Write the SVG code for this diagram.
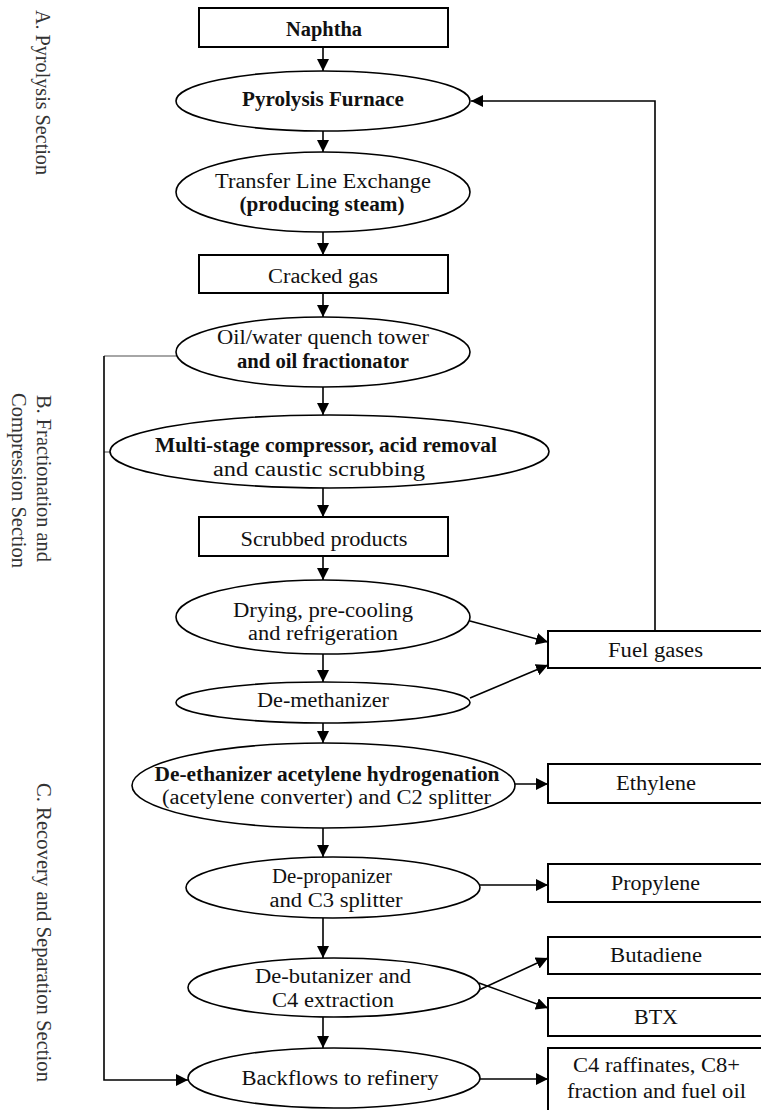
<svg xmlns="http://www.w3.org/2000/svg" width="761" height="1110" viewBox="0 0 761 1110">
<style>
.bg{fill:#fff}
.box{fill:#fff;stroke:#000;stroke-width:2}
.ell{fill:#fff;stroke:#000;stroke-width:1.6}
.t{font-family:"Liberation Serif","Times New Roman",serif;font-size:20px;fill:#111;text-anchor:middle}
.b{font-weight:bold}
.lbl{font-family:"Liberation Serif","Times New Roman",serif;font-size:20px;fill:#333}
.c{fill:none;stroke:#000;stroke-width:1.6}
.g{fill:none;stroke:#888;stroke-width:1.6}
</style>
<defs>
<marker id="ah" markerUnits="userSpaceOnUse" markerWidth="12" markerHeight="12" refX="12" refY="6" orient="auto" viewBox="0 0 12 12">
<path d="M0,0 L12,6 L0,12 z" fill="#000"/>
</marker>
</defs>
<rect class="bg" x="0" y="0" width="761" height="1110"/>

<g id="labels">
<text class="lbl" transform="translate(36,10) rotate(90)" textLength="165" lengthAdjust="spacingAndGlyphs">A. Pyrolysis Section</text>
<text class="lbl" transform="translate(37,395) rotate(90)" textLength="167" lengthAdjust="spacingAndGlyphs">B. Fractionation and</text>
<text class="lbl" transform="translate(12,393) rotate(90)" textLength="175" lengthAdjust="spacingAndGlyphs">Compression Section</text>
<text class="lbl" transform="translate(37,783) rotate(90)" textLength="299" lengthAdjust="spacingAndGlyphs">C. Recovery and Separation Section</text>
</g>

<g id="connectors">
<line class="c" x1="323" y1="47" x2="323" y2="71" marker-end="url(#ah)"/>
<line class="c" x1="323" y1="131" x2="323" y2="152" marker-end="url(#ah)"/>
<line class="c" x1="323" y1="232" x2="323" y2="255" marker-end="url(#ah)"/>
<line class="c" x1="323" y1="293" x2="323" y2="317" marker-end="url(#ah)"/>
<line class="c" x1="323" y1="387" x2="323" y2="415" marker-end="url(#ah)"/>
<line class="c" x1="323" y1="488" x2="323" y2="517" marker-end="url(#ah)"/>
<line class="c" x1="323" y1="556" x2="323" y2="580" marker-end="url(#ah)"/>
<line class="c" x1="323" y1="654" x2="323" y2="682" marker-end="url(#ah)"/>
<line class="c" x1="323" y1="723" x2="323" y2="743" marker-end="url(#ah)"/>
<line class="c" x1="323" y1="828" x2="323" y2="857" marker-end="url(#ah)"/>
<line class="c" x1="323" y1="918" x2="323" y2="958" marker-end="url(#ah)"/>
<line class="c" x1="323" y1="1017" x2="323" y2="1048" marker-end="url(#ah)"/>
<polyline class="c" points="655,631 655,101 471,101" marker-end="url(#ah)"/>
<line class="c" x1="470" y1="621" x2="548" y2="642" marker-end="url(#ah)"/>
<line class="c" x1="470" y1="698" x2="548" y2="665" marker-end="url(#ah)"/>
<line class="c" x1="515" y1="784" x2="548" y2="784" marker-end="url(#ah)"/>
<line class="c" x1="480" y1="885" x2="548" y2="885" marker-end="url(#ah)"/>
<line class="c" x1="479" y1="990" x2="548" y2="958" marker-end="url(#ah)"/>
<line class="c" x1="479" y1="983" x2="548" y2="1008" marker-end="url(#ah)"/>
<line class="c" x1="480" y1="1079" x2="548" y2="1079" marker-end="url(#ah)"/>
<line class="g" x1="176" y1="356" x2="104" y2="356"/>
<line class="g" x1="110" y1="452" x2="104" y2="452"/>
<polyline class="c" points="104,356 104,1080 188,1080" marker-end="url(#ah)"/>
</g>

<g id="naphtha"><rect class="box" x="199" y="8" width="249" height="39"/><text class="t b" x="324" y="36" textLength="76" lengthAdjust="spacingAndGlyphs">Naphtha</text></g>
<g id="pyrolysis"><ellipse class="ell" cx="323" cy="101" rx="147" ry="30"/><text class="t b" x="323" y="106" textLength="162" lengthAdjust="spacingAndGlyphs">Pyrolysis Furnace</text></g>
<g id="tle"><ellipse class="ell" cx="323" cy="192" rx="147" ry="40"/><text class="t" x="323" y="188" textLength="216" lengthAdjust="spacingAndGlyphs">Transfer Line Exchange</text><text class="t b" x="322" y="211" textLength="165" lengthAdjust="spacingAndGlyphs">(producing steam)</text></g>
<g id="cracked"><rect class="box" x="199" y="255" width="249" height="38"/><text class="t" x="323" y="283" textLength="110" lengthAdjust="spacingAndGlyphs">Cracked gas</text></g>
<g id="quench"><ellipse class="ell" cx="323" cy="352" rx="147" ry="35"/><text class="t" x="323" y="344" textLength="212" lengthAdjust="spacingAndGlyphs">Oil/water quench tower</text><text class="t b" x="323" y="368" textLength="172" lengthAdjust="spacingAndGlyphs">and oil fractionator</text></g>
<g id="compressor"><ellipse class="ell" cx="329.5" cy="451.5" rx="219.5" ry="36.5"/><text class="t b" x="326" y="452" textLength="342" lengthAdjust="spacingAndGlyphs">Multi-stage compressor, acid removal</text><text class="t" x="319" y="476" textLength="212" lengthAdjust="spacingAndGlyphs">and caustic scrubbing</text></g>
<g id="scrubbed"><rect class="box" x="199" y="517" width="249" height="39"/><text class="t" x="324" y="546" textLength="167" lengthAdjust="spacingAndGlyphs">Scrubbed products</text></g>
<g id="drying"><ellipse class="ell" cx="323" cy="617" rx="147" ry="37"/><text class="t" x="323" y="617" textLength="180" lengthAdjust="spacingAndGlyphs">Drying, pre-cooling</text><text class="t" x="323" y="640" textLength="150" lengthAdjust="spacingAndGlyphs">and refrigeration</text></g>
<g id="demethanizer"><ellipse class="ell" cx="323" cy="702.5" rx="147" ry="20.5"/><text class="t" x="323" y="707" textLength="132" lengthAdjust="spacingAndGlyphs">De-methanizer</text></g>
<g id="deethanizer"><ellipse class="ell" cx="323.5" cy="785.5" rx="191.5" ry="42.5"/><text class="t b" x="327" y="781" textLength="345" lengthAdjust="spacingAndGlyphs">De-ethanizer acetylene hydrogenation</text><text class="t" x="326.5" y="804" textLength="329" lengthAdjust="spacingAndGlyphs">(acetylene converter) and C2 splitter</text></g>
<g id="depropanizer"><ellipse class="ell" cx="333" cy="887.5" rx="147" ry="30.5"/><text class="t" x="332" y="883" textLength="120" lengthAdjust="spacingAndGlyphs">De-propanizer</text><text class="t" x="336" y="907" textLength="133" lengthAdjust="spacingAndGlyphs">and C3 splitter</text></g>
<g id="debutanizer"><ellipse class="ell" cx="334" cy="987.5" rx="146" ry="29.5"/><text class="t" x="333" y="983" textLength="156" lengthAdjust="spacingAndGlyphs">De-butanizer and</text><text class="t" x="333" y="1007" textLength="122" lengthAdjust="spacingAndGlyphs">C4 extraction</text></g>
<g id="backflows"><ellipse class="ell" cx="334" cy="1078" rx="146" ry="30"/><text class="t" x="340" y="1085" textLength="197" lengthAdjust="spacingAndGlyphs">Backflows to refinery</text></g>
<g id="fuelgases"><rect class="box" x="548" y="631" width="216" height="37"/><text class="t" x="655.5" y="657" textLength="95" lengthAdjust="spacingAndGlyphs">Fuel gases</text></g>
<g id="ethylene"><rect class="box" x="548" y="764" width="216" height="39"/><text class="t" x="656" y="790" textLength="80" lengthAdjust="spacingAndGlyphs">Ethylene</text></g>
<g id="propylene"><rect class="box" x="548" y="864" width="216" height="38"/><text class="t" x="655.5" y="890" textLength="89" lengthAdjust="spacingAndGlyphs">Propylene</text></g>
<g id="butadiene"><rect class="box" x="548" y="937" width="216" height="37"/><text class="t" x="656" y="962" textLength="92" lengthAdjust="spacingAndGlyphs">Butadiene</text></g>
<g id="btx"><rect class="box" x="548" y="998" width="216" height="38"/><text class="t" x="656" y="1024" textLength="44" lengthAdjust="spacingAndGlyphs">BTX</text></g>
<g id="raffinates"><rect class="box" x="548" y="1048" width="216" height="66"/><text class="t" x="656.5" y="1072" textLength="167" lengthAdjust="spacingAndGlyphs">C4 raffinates, C8+</text><text class="t" x="656.5" y="1098" textLength="179" lengthAdjust="spacingAndGlyphs">fraction and fuel oil</text></g>
</svg>
